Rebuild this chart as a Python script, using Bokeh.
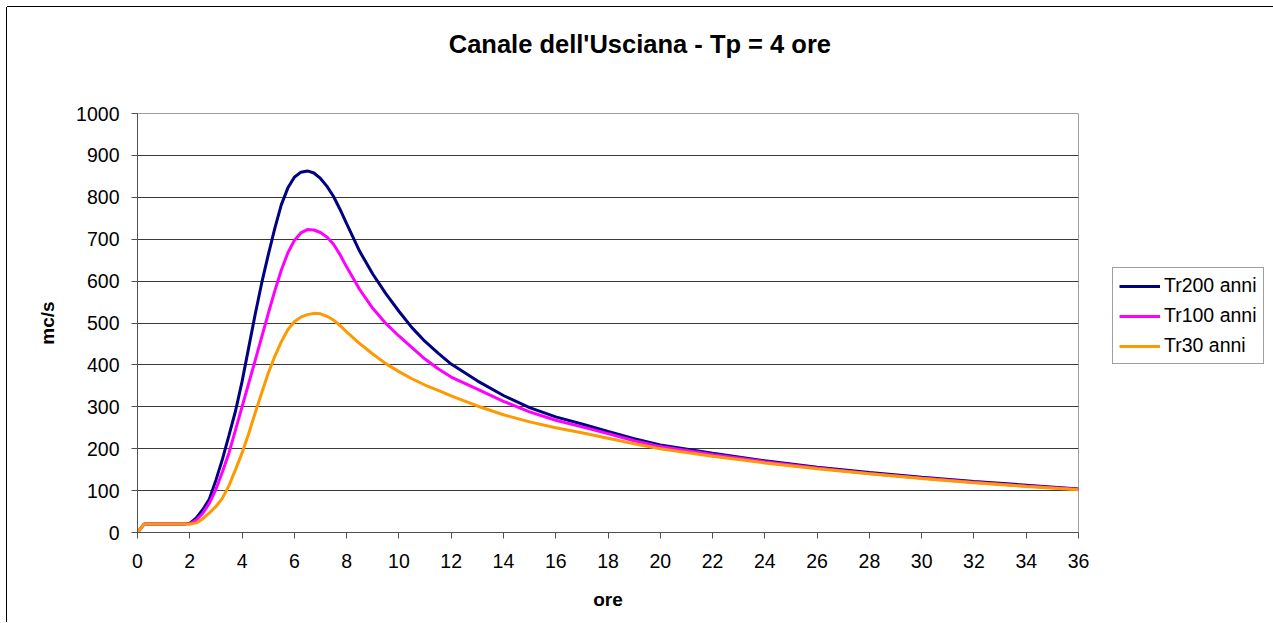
from bokeh.plotting import figure
from bokeh.models import Legend, LegendItem, FixedTicker, Range1d, LinearAxis
from bokeh.embed import file_html
from bokeh.resources import INLINE

# ---- data ----
T = [0, 0.25, 0.5, 0.75, 1, 1.25, 1.5, 1.75,
     2, 2.25, 2.5, 2.75, 3, 3.25, 3.5, 3.75, 4, 4.25, 4.5, 4.75,
     5, 5.25, 5.5, 5.75, 6, 6.25, 6.5, 6.75, 7, 7.25, 7.5, 7.75, 8,
     8.5, 9, 9.5, 10, 10.5, 11, 11.5, 12,
     13, 14, 15, 16, 17, 18, 19, 20,
     22, 24, 26, 28, 30, 32, 34, 36]

Q200 = [0, 20, 20, 20, 20, 20, 20, 20,
        22, 35, 55, 80, 125, 175, 232, 290, 360, 440, 520, 595,
        662, 725, 782, 822, 848, 860, 863, 858, 845, 826, 802, 771, 737,
        671, 617, 570, 528, 489, 456, 428, 402,
        362, 327, 298, 276, 259, 241, 224, 209,
        189, 171, 156, 143, 132, 122, 113, 104]

Q100 = [0, 20, 20, 20, 20, 20, 20, 20,
        21, 30, 46, 70, 103, 145, 190, 245, 300, 355, 410, 466,
        522, 576, 626, 667, 697, 715, 723, 722, 716, 705, 688, 663, 634,
        580, 535, 499, 469, 441, 414, 391, 371,
        342, 313, 288, 268, 252, 236, 219, 205,
        186, 169, 154, 141, 130, 120, 111, 103]

Q30 = [0, 20, 20, 20, 20, 20, 20, 20,
       20, 23, 33, 47, 62, 82, 112, 150, 190, 235, 285, 333,
       380, 420, 455, 484, 503, 514, 520, 523, 522, 516, 507, 494, 479,
       451, 426, 403, 384, 367, 352, 339, 326,
       302, 281, 264, 250, 238, 225, 212, 200,
       182, 166, 152, 140, 129, 119, 110, 102]

series_names = ["Tr200 anni", "Tr100 anni", "Tr30 anni"]
series_colors = ["#000080", "#FF00FF", "#FF9900"]
x_ticks = list(range(0, 37, 2))
y_ticks = list(range(0, 1001, 100))
title_text = "Canale dell'Usciana - Tp = 4 ore"

FONT = "Liberation Sans"

p = figure(frame_width=941, frame_height=419, output_backend="svg", toolbar_location=None,
           x_range=Range1d(0, 36), y_range=Range1d(0, 1000),
           min_border_left=130, min_border_right=193,
           min_border_top=106, min_border_bottom=90)

p.styles = {"margin-left": "7px", "margin-top": "7px",
            "box-shadow": "-1px 0 0 0 black, 0 -1px 0 0 black, 1px 0 0 0 black"}

xa = p.below[0]
ya = p.left[0]

p.outline_line_color = "#a0a0a0"
p.outline_line_width = 1

p.xgrid.visible = False
p.ygrid.ticker = FixedTicker(ticks=y_ticks)
p.ygrid.grid_line_color = "#3a3a3a"
p.ygrid.grid_line_width = 1

for ax, ticks in ((xa, x_ticks), (ya, y_ticks)):
    ax.ticker = FixedTicker(ticks=ticks)
    ax.axis_line_color = "#505050"
    ax.major_tick_line_color = "#505050"
    ax.minor_tick_line_color = None
    ax.major_tick_in = 0
    ax.major_tick_out = 6
    ax.major_label_text_font = FONT
    ax.major_label_text_font_size = "19.5px"
    ax.major_label_text_color = "black"
    ax.axis_label_text_font = FONT
    ax.axis_label_text_font_size = "19px"
    ax.axis_label_text_font_style = "bold"
    ax.axis_label_text_color = "black"

xa.axis_label = "ore"
ya.axis_label = "mc/s"
xa.major_label_standoff = 15
ya.major_label_standoff = 12
xa.axis_label_standoff = 18
ya.axis_label_standoff = 15

# chart title drawn as the label of an empty axis above the plot area;
# leading no-break spaces centre it on the whole chart rather than the plot area
tax = LinearAxis(ticker=FixedTicker(ticks=[]), axis_line_color=None,
                 major_tick_line_color=None, minor_tick_line_color=None,
                 major_tick_out=0, major_label_standoff=0,
                 axis_label="\u00a0" * 9 + title_text, axis_label_standoff=56,
                 axis_label_text_font=FONT, axis_label_text_font_size="25.5px",
                 axis_label_text_font_style="bold", axis_label_text_color="black")
p.add_layout(tax, "above")

renderers = []
for q, c in zip([Q200, Q100, Q30], series_colors):
    r = p.line(T, q, line_color=c, line_width=3)
    renderers.append(r)

legend = Legend(items=[LegendItem(label=n, renderers=[r]) for n, r in zip(series_names, renderers)],
                location=(34, 168))
legend.label_text_font = FONT
legend.label_text_font_size = "19.5px"
legend.label_text_color = "black"
legend.glyph_width = 41
legend.glyph_height = 22
legend.label_height = 22
legend.label_standoff = 4
legend.spacing = 7
legend.padding = 6
legend.margin = 0
legend.border_line_color = "#404040"
legend.border_line_width = 1
legend.background_fill_color = "white"
legend.background_fill_alpha = 1
p.add_layout(legend, "right")

open("out.html", "w").write(file_html(p, INLINE))
